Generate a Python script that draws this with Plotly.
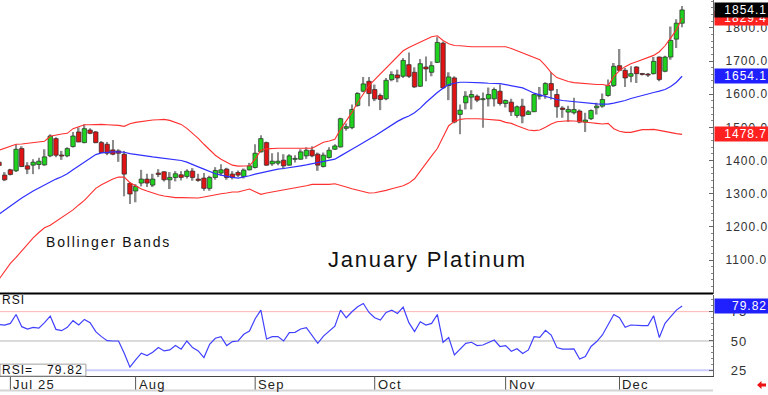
import plotly.graph_objects as go

# ---------------- data ----------------
opens = [1395, 1356, 1372, 1369, 1436, 1384, 1386, 1388, 1387, 1414,
         1466, 1416, 1414, 1442, 1486, 1454, 1492, 1486, 1454, 1449,
         1432, 1429, 1419, 1331, 1308, 1332, 1344, 1326, 1362, 1366,
         1342, 1349, 1357, 1352, 1368, 1344, 1347, 1316, 1349, 1362,
         1374, 1359, 1364, 1352, 1372, 1379, 1426, 1454, 1390, 1392,
         1401, 1386, 1404, 1404, 1414, 1431, 1419, 1382, 1409, 1434,
         1441, 1497, 1499, 1566, 1609, 1639, 1614, 1596, 1586, 1644,
         1658, 1654, 1689, 1666, 1624, 1682, 1666, 1696, 1754, 1626,
         1649, 1539, 1574, 1591, 1594, 1584, 1586, 1586, 1609, 1572,
         1576, 1536, 1564, 1539, 1547, 1594, 1599, 1632, 1599, 1558,
         1546, 1544, 1549, 1516, 1526, 1559, 1564, 1596, 1626, 1686,
         1672, 1654, 1682, 1662, 1660, 1662, 1712, 1669, 1712, 1766,
         1814]
highs = [1415, 1365, 1375, 1449, 1443, 1395, 1404, 1408, 1434, 1479,
         1470, 1429, 1440, 1486, 1500, 1509, 1497, 1489, 1459, 1456,
         1462, 1434, 1429, 1335, 1329, 1372, 1360, 1360, 1374, 1368,
         1365, 1368, 1368, 1374, 1377, 1360, 1362, 1354, 1380, 1389,
         1378, 1368, 1370, 1376, 1393, 1449, 1476, 1457, 1422, 1425,
         1419, 1419, 1416, 1434, 1440, 1443, 1424, 1424, 1440, 1449,
         1529, 1512, 1569, 1606, 1652, 1652, 1629, 1602, 1649, 1669,
         1674, 1709, 1726, 1681, 1706, 1714, 1699, 1772, 1759, 1666,
         1654, 1569, 1609, 1612, 1599, 1605, 1620, 1620, 1629, 1584,
         1586, 1566, 1586, 1552, 1601, 1622, 1636, 1666, 1616, 1564,
         1565, 1589, 1554, 1544, 1554, 1574, 1602, 1644, 1694, 1736,
         1679, 1684, 1684, 1664, 1664, 1712, 1714, 1716, 1804, 1826,
         1866]
lows = [1360, 1338, 1355, 1365, 1380, 1359, 1359, 1374, 1384, 1410,
        1410, 1402, 1410, 1439, 1455, 1452, 1479, 1452, 1422, 1416,
        1416, 1396, 1292, 1269, 1274, 1322, 1320, 1320, 1350, 1337,
        1314, 1337, 1340, 1346, 1339, 1336, 1309, 1309, 1342, 1354,
        1342, 1343, 1350, 1346, 1370, 1376, 1424, 1384, 1384, 1386,
        1374, 1384, 1394, 1402, 1405, 1410, 1369, 1379, 1406, 1432,
        1439, 1490, 1494, 1562, 1606, 1564, 1579, 1552, 1582, 1639,
        1636, 1649, 1649, 1619, 1622, 1639, 1654, 1694, 1616, 1582,
        1512, 1479, 1554, 1554, 1576, 1499, 1563, 1563, 1566, 1560,
        1534, 1529, 1512, 1537, 1546, 1584, 1586, 1584, 1529, 1529,
        1516, 1539, 1512, 1486, 1522, 1539, 1559, 1592, 1622, 1669,
        1622, 1636, 1634, 1656, 1652, 1659, 1639, 1666, 1704, 1739,
        1802]
closes = [1385, 1342, 1358, 1434, 1382, 1374, 1395, 1398, 1411, 1474,
          1416, 1414, 1436, 1474, 1456, 1496, 1482, 1454, 1424, 1422,
          1419, 1422, 1359, 1299, 1322, 1344, 1332, 1344, 1358, 1342,
          1349, 1360, 1349, 1368, 1349, 1340, 1316, 1349, 1370, 1372,
          1349, 1349, 1356, 1371, 1384, 1422, 1466, 1386, 1398, 1398,
          1384, 1414, 1406, 1426, 1431, 1414, 1386, 1416, 1431, 1444,
          1526, 1502, 1554, 1602, 1631, 1602, 1586, 1584, 1642, 1659,
          1649, 1702, 1654, 1622, 1692, 1676, 1686, 1756, 1619, 1652,
          1516, 1552, 1594, 1599, 1582, 1586, 1599, 1614, 1572, 1581,
          1547, 1562, 1534, 1547, 1599, 1597, 1632, 1612, 1562, 1554,
          1554, 1554, 1516, 1522, 1551, 1564, 1584, 1626, 1684, 1672,
          1649, 1662, 1662, 1660, 1658, 1699, 1644, 1712, 1762, 1814,
          1854.1]

bb_upper = [1431, 1437, 1443, 1449, 1450, 1452, 1454, 1456, 1458, 1473,
            1477, 1480, 1482, 1496, 1502, 1508, 1508, 1509, 1509, 1508,
            1508, 1506, 1503, 1511, 1515, 1518, 1521, 1522, 1523, 1524,
            1521, 1515, 1509, 1497, 1482, 1467, 1449, 1431, 1416, 1404,
            1395, 1386, 1383, 1383, 1384, 1404, 1431, 1435, 1437, 1437,
            1437, 1437, 1437, 1437, 1437, 1437, 1446, 1455, 1459, 1464,
            1494, 1518, 1545, 1575, 1602, 1626, 1644, 1662, 1680, 1698,
            1713, 1731, 1741, 1749, 1758, 1765, 1773, 1776, 1762, 1752,
            1747, 1746, 1744, 1743, 1743, 1743, 1743, 1743, 1743, 1743,
            1738, 1731, 1725, 1719, 1711, 1704, 1686, 1665, 1650, 1643,
            1638, 1635, 1633, 1632, 1630, 1629, 1629, 1626, 1653, 1671,
            1683, 1692, 1698, 1704, 1710, 1717, 1728, 1746, 1770, 1794,
            1829.4]
bb_mid = [1238, 1251, 1263, 1275, 1287, 1298, 1308, 1317, 1326, 1336,
          1344, 1351, 1360, 1372, 1384, 1396, 1407, 1418, 1423, 1425,
          1426, 1426, 1425, 1421, 1418, 1415, 1413, 1411, 1409, 1407,
          1405, 1402, 1400, 1395, 1387, 1381, 1374, 1367, 1360, 1356,
          1352, 1349, 1347, 1350, 1354, 1359, 1363, 1368, 1371, 1374,
          1376, 1378, 1381, 1384, 1387, 1390, 1394, 1397, 1401, 1404,
          1414, 1425, 1434, 1444, 1455, 1464, 1474, 1485, 1497, 1508,
          1518, 1527, 1534, 1544, 1558, 1575, 1591, 1605, 1618, 1629,
          1633, 1636, 1636, 1636, 1635, 1634, 1633, 1633, 1632, 1629,
          1626, 1623, 1619, 1611, 1603, 1598, 1593, 1588, 1584, 1581,
          1579, 1577, 1576, 1574, 1572, 1571, 1570, 1570, 1573, 1576,
          1581, 1587, 1592, 1596, 1600, 1605, 1609, 1614, 1623, 1636,
          1654.1]
bb_lower = [1042, 1068, 1090, 1108, 1128, 1148, 1167, 1183, 1197, 1205,
            1217, 1228, 1241, 1251, 1266, 1280, 1298, 1316, 1327, 1336,
            1344, 1350, 1350, 1333, 1323, 1314, 1308, 1302, 1297, 1293,
            1290, 1288, 1288, 1288, 1286, 1287, 1290, 1294, 1296, 1300,
            1302, 1305, 1305, 1310, 1314, 1306, 1298, 1302, 1305, 1308,
            1310, 1313, 1316, 1320, 1324, 1328, 1328, 1326, 1328, 1330,
            1324, 1320, 1315, 1310, 1306, 1302, 1303, 1306, 1310, 1315,
            1320, 1324, 1332, 1345, 1368, 1392, 1414, 1436, 1470, 1505,
            1518, 1524, 1526, 1527, 1526, 1525, 1524, 1523, 1521, 1515,
            1512, 1505, 1498, 1492, 1490, 1492, 1500, 1510, 1517, 1519,
            1520, 1519, 1518, 1516, 1514, 1512, 1510, 1512, 1496, 1488,
            1485, 1485, 1490, 1493, 1493, 1494, 1491, 1487, 1484, 1481,
            1478.7]
rsi = [64, 63.6, 65, 72.6, 62.2, 60.2, 61.6, 61, 65.6, 71.2,
       59.9, 58.8, 61.6, 67.3, 63.6, 68.4, 65.6, 58, 53.7, 50.3,
       50, 50, 39.6, 27.7, 33.9, 39.6, 37.6, 40.4, 44.4, 41.5,
       42.4, 46.1, 43, 50, 44.4, 41.5, 35.9, 47.2, 52.3, 53.7,
       46.1, 49.5, 50, 55.7, 58.5, 69, 76.3, 51.7, 53.7, 53.7,
       50, 57.1, 57.4, 60.2, 61.4, 55.1, 48, 54.2, 58.8, 62.7,
       76.3, 69.8, 74.9, 79.2, 81.9, 74.3, 69.8, 67.8, 74.3, 76.3,
       73.5, 78.8, 65.6, 58, 66.4, 63.6, 65, 72.6, 48.9, 52.9,
       38.1, 43, 48, 48.9, 46.1, 46.6, 48.9, 50.8, 45.3, 46.1,
       41.2, 43.4, 39.3, 42.4, 53.7, 53.1, 59.1, 55.1, 44.4, 43,
       43, 43.2, 34.7, 36.8, 45.3, 49.5, 55.1, 63.6, 72.6, 69.8,
       61.6, 63.6, 63.1, 63.1, 63.1, 71.5, 52.9, 65, 70.7, 76.3,
       79.82]

month_tick_pos = [2, 24, 45, 66, 89, 109]
month_labels = ["Jul 25", "Aug", "Sep", "Oct", "Nov", "Dec"]
price_ticks = [1100, 1200, 1300, 1400, 1500, 1600, 1700, 1800]
rsi_ticks = [25, 50, 75]
rsi_levels = [75, 50, 25]
rsi_level_colors = ["#ffb4b4", "#b8b8b8", "#ccccff"]
rsi_level_widths = [1, 1, 2]

# ---------------- helpers ----------------
W, H = 768, 395
FONT = "Liberation Sans, Arial, sans-serif"


def px(x):
    return x / W


def py(y):
    return 1 - y / H


def sp(text, ls=1.0):
    return f'<span style="letter-spacing:{ls}px">{text}</span>'


bars = list(range(len(closes)))
X_END = px(714)

GREEN = "#1ed21e"
RED = "#e01414"

MIN_BODY = 3
body_base, body_h, body_col = [], [], []
for o, c in zip(opens, closes):
    lo, hi = min(o, c), max(o, c)
    h = hi - lo
    if h < MIN_BODY:
        lo -= (MIN_BODY - h) / 2
        h = MIN_BODY
    body_base.append(lo)
    body_h.append(h)
    body_col.append(GREEN if c >= o else RED)

fig = go.Figure()

# wicks
fig.add_trace(go.Bar(
    x=bars, y=[h - l for h, l in zip(highs, lows)], base=lows,
    width=0.3, marker=dict(color="#8c8c8c", line=dict(width=0)),
    xaxis="x", yaxis="y", hoverinfo="skip", showlegend=False))
# bodies
fig.add_trace(go.Bar(
    x=bars, y=body_h, base=body_base, width=0.78,
    marker=dict(color=body_col, line=dict(color="#2a2a2a", width=0.7)),
    xaxis="x", yaxis="y", hoverinfo="skip", showlegend=False))

# bollinger bands
for series, col, w in [(bb_upper, "#ff3030", 1.1), (bb_mid, "#3030ff", 1.2),
                       (bb_lower, "#ff3030", 1.1)]:
    fig.add_trace(go.Scatter(x=bars, y=series, mode="lines",
                             line=dict(color=col, width=w),
                             xaxis="x", yaxis="y", hoverinfo="skip",
                             showlegend=False))

# RSI
fig.add_trace(go.Scatter(x=bars, y=rsi, mode="lines",
                         line=dict(color="#4040ff", width=1.2),
                         xaxis="x2", yaxis="y2", hoverinfo="skip",
                         showlegend=False))

shapes = []
for lvl, col, w in zip(rsi_levels, rsi_level_colors, rsi_level_widths):
    shapes.append(dict(type="line", xref="paper", yref="y2", x0=0, x1=X_END,
                       y0=lvl, y1=lvl, line=dict(color=col, width=w),
                       layer="below"))
shapes.append(dict(type="line", xref="paper", yref="paper", x0=0, x1=X_END,
                   y0=py(295), y1=py(295), line=dict(color="#000", width=2)))
for pos in month_tick_pos:
    shapes.append(dict(type="line", xref="x2", yref="paper", x0=pos, x1=pos,
                       y0=py(378), y1=py(392), line=dict(color="#555", width=1)))
shapes.append(dict(type="line", xref="paper", yref="paper", x0=0, x1=X_END,
                   y0=py(392.5), y1=py(392.5), line=dict(color="#d4d4d4", width=2)))
shapes.append(dict(type="rect", xref="paper", yref="paper", x0=0, x1=px(86),
                   y0=py(378), y1=py(366), fillcolor="white",
                   line=dict(color="#a0a0a0", width=1)))
ax = [758, 762.5, 762.5, 767, 767, 762.5, 762.5]
ay = [387, 383, 385.5, 385.5, 388.5, 388.5, 391]
path = "M " + " L ".join(f"{px(a)},{py(b)}" for a, b in zip(ax, ay)) + " Z"
shapes.append(dict(type="path", xref="paper", yref="paper", path=path,
                   fillcolor="#ee1111", line=dict(width=0)))

annotations = []
for pos, lab in zip(month_tick_pos, month_labels):
    annotations.append(dict(x=pos, xref="x2", y=py(386), yref="paper",
                            text=sp(lab, 1.2), showarrow=False, xanchor="left",
                            yanchor="middle", xshift=1,
                            font=dict(family=FONT, size=13, color="#222")))
annotations.append(dict(x=px(44), y=py(243), xref="paper", yref="paper",
                        text=sp("Bollinger Bands", 1.8), showarrow=False,
                        xanchor="left", yanchor="middle",
                        font=dict(family=FONT, size=14, color="#111")))
annotations.append(dict(x=px(326), y=py(261), xref="paper", yref="paper",
                        text=sp("January Platinum", 1.8), showarrow=False,
                        xanchor="left", yanchor="middle",
                        font=dict(family=FONT, size=22, color="#111")))
annotations.append(dict(x=0, y=py(301.5), xref="paper", yref="paper",
                        text=sp("RSI", 1.0), showarrow=False,
                        xanchor="left", yanchor="middle",
                        font=dict(family=FONT, size=12, color="#111")))
annotations.append(dict(x=0, y=py(372), xref="paper", yref="paper",
                        text=sp("RSI=", 1.0), showarrow=False,
                        xanchor="left", yanchor="middle",
                        font=dict(family=FONT, size=12, color="#111")))
annotations.append(dict(x=px(85), y=py(372), xref="paper", yref="paper",
                        text=sp(f"{rsi[-1]:.2f}", 1.2), showarrow=False,
                        xanchor="right", yanchor="middle",
                        font=dict(family=FONT, size=12, color="#111")))

value_boxes = [
    (bb_upper[-1], "y", "#ff2020", ".1f"),
    (closes[-1], "y", "#000000", ".1f"),
    (bb_mid[-1], "y", "#2020ff", ".1f"),
    (bb_lower[-1], "y", "#ff2020", ".1f"),
    (rsi[-1], "y2", "#2020ff", ".2f"),
]
for val, yr, col, fmt in value_boxes:
    annotations.append(dict(x=px(714.5), xref="paper", y=val, yref=yr,
                            text=sp(format(val, fmt), 1.0), showarrow=False,
                            xanchor="left", yanchor="middle", align="right",
                            width=51, height=12, borderpad=1, bgcolor=col,
                            font=dict(family=FONT, size=12, color="white")))

price_ticktext = [sp(f"{v:.1f}", 1.0) for v in price_ticks]
rsi_ticktext = [sp(str(v), 1.0) for v in rsi_ticks]

fig.update_layout(
    width=W, height=H, margin=dict(l=0, r=0, t=0, b=0),
    paper_bgcolor="white", plot_bgcolor="white",
    barmode="overlay", showlegend=False,
    shapes=shapes, annotations=annotations,
    xaxis=dict(domain=[0, X_END], range=[0.175, 125.44], anchor="y",
               showticklabels=False, showgrid=False, zeroline=False,
               showline=False, ticks=""),
    xaxis2=dict(domain=[0, X_END], matches="x", anchor="y2",
                showticklabels=False, showgrid=False, zeroline=False,
                showline=True, linecolor="#444", linewidth=1, ticks=""),
    yaxis=dict(domain=[py(295), 1], range=[999, 1884], anchor="x",
               side="right", tickmode="array", tickvals=price_ticks,
               ticktext=price_ticktext, ticks="inside", ticklen=4,
               tickcolor="#666", showline=True, linecolor="#666",
               linewidth=1, showgrid=False, zeroline=False,
               ticklabelstandoff=9,
               tickfont=dict(family=FONT, size=12, color="#333"),
               minor=dict(ticks="inside", ticklen=2, tickcolor="#888",
                          tickmode="linear", tick0=1000, dtick=20)),
    yaxis2=dict(domain=[py(378), py(296)], range=[20.1, 89.6], anchor="x2",
                side="right", tickmode="array", tickvals=rsi_ticks,
                ticktext=rsi_ticktext, ticks="inside", ticklen=4,
                tickcolor="#666", showline=True, linecolor="#666",
                linewidth=1, showgrid=False, zeroline=False,
                ticklabelstandoff=14,
                tickfont=dict(family=FONT, size=13, color="#333"),
                minor=dict(ticks="inside", ticklen=2, tickcolor="#888",
                           tickmode="linear", tick0=0, dtick=5)),
)

fig.write_html("out.html", config={"displayModeBar": False},
               post_script="document.body.style.margin='0';"
               "document.body.style.padding='0';")
